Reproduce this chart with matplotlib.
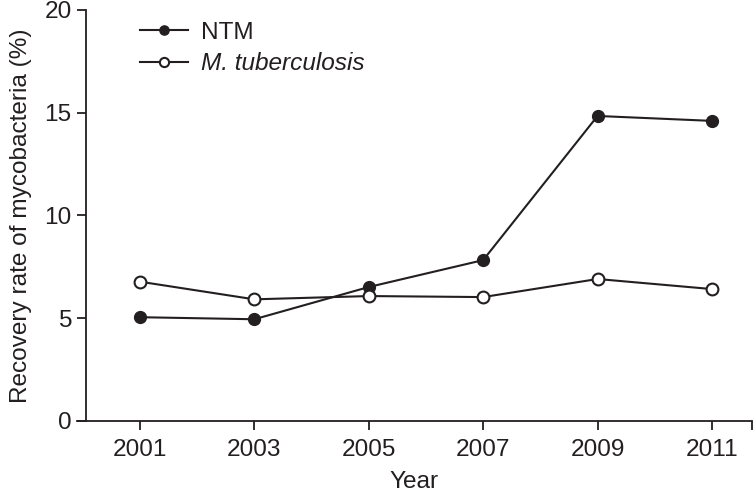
import matplotlib.pyplot as plt

years = [2001, 2003, 2005, 2007, 2009, 2011]
ntm = [5.04, 4.94, 6.51, 7.82, 14.84, 14.6]
mtb = [6.77, 5.91, 6.07, 6.02, 6.9, 6.41]

plt.rcParams['font.family'] = ['Liberation Sans', 'DejaVu Sans']
col = '#231f20'
fs = 17.6

fig = plt.figure(figsize=(7.53, 4.96), dpi=100)
ax = fig.add_axes([77 / 753, 1 - 420.7 / 496, 675 / 753, 410.7 / 496])

ax.plot(years, ntm, color=col, lw=1.5, marker='o', ms=8.5,
        mfc=col, mec=col, label='NTM')
ax.plot(years, mtb, color=col, lw=1.5, marker='o', ms=8.5,
        mfc='white', mec=col, mew=1.5, label='M. tuberculosis')

ax.set_xlim(1999.9, 2011.7)
ax.set_ylim(0, 20)
ax.set_xticks(years)
ax.set_xticks([2011.7], minor=True)
ax.set_yticks([0, 5, 10, 15, 20])

ax.spines['top'].set_visible(False)
ax.spines['right'].set_visible(False)
ax.spines['left'].set_position(('data', 2000.06))
for s in ['left', 'bottom']:
    ax.spines[s].set_color(col)
    ax.spines[s].set_linewidth(1.3)

ax.tick_params(which='both', direction='out', length=6.5, width=1.3,
               color=col, labelsize=fs, labelcolor=col, pad=4)
ax.tick_params(axis='x', which='both', pad=7)

ax.set_xlabel('Year', size=fs, color=col, labelpad=7)
ax.set_ylabel('Recovery rate of mycobacteria (%)', size=fs, color=col, labelpad=9)

leg = ax.legend(loc='upper left', bbox_to_anchor=(0.06, 1.025), frameon=False,
                fontsize=fs, handlelength=2.0, labelspacing=0.35, handletextpad=0.5,
                markerscale=0.78)
for t in leg.get_texts():
    t.set_color(col)
leg.get_texts()[1].set_style('italic')

fig.savefig('out.png', dpi=100)
